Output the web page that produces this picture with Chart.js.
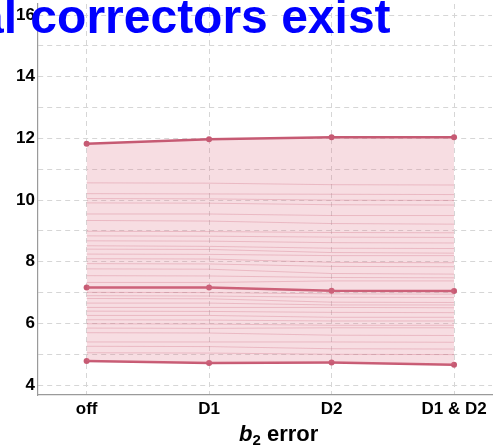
<!DOCTYPE html>
<html>
<head>
<meta charset="utf-8">
<script src="https://cdn.jsdelivr.net/npm/chart.js@4/dist/chart.umd.min.js"></script>
<style>
  html, body { margin: 0; padding: 0; background: #fff; overflow: hidden; }
  #wrap { position: relative; width: 496px; height: 448px; overflow: hidden; }
  #c { position: absolute; left: 0; top: 0; }
  #title {
    position: absolute; left: -23px; top: -11px; white-space: nowrap;
    font: bold 48px "Liberation Sans", Arial, sans-serif; color: #0000ff;
  }
  #xtitle {
    position: absolute; left: 239px; top: 421px; white-space: nowrap;
    font: bold 22px "Liberation Sans", Arial, sans-serif; color: #000;
  }
  #xtitle sub { font-size: 15px; vertical-align: -4px; }
</style>
</head>
<body>
<div id="wrap">
  <canvas id="c" width="496" height="448"></canvas>
  <div id="xtitle"><i>b</i><sub>2</sub> error</div>
  <div id="title">al correctors exist</div>
</div>
<script>
// categories along the x axis
const categories = ['off', 'D1', 'D2', 'D1 & D2'];

// envelope and median of all runs
const upper  = [11.83, 11.97, 12.04, 12.04];
const median = [7.17, 7.17, 7.06, 7.05];
const lower  = [4.78, 4.72, 4.73, 4.66];

// individual runs
const runs = [
  [10.56, 10.55, 10.50, 10.49],
  [10.21, 10.20, 10.19, 10.18],
  [10.05, 10.04, 10.00, 9.99],
  [9.91, 9.90, 9.85, 9.84],
  [9.55, 9.55, 9.50, 9.50],
  [9.34, 9.32, 9.24, 9.22],
  [8.99, 8.98, 8.95, 8.94],
  [8.84, 8.83, 8.80, 8.79],
  [8.68, 8.67, 8.62, 8.61],
  [8.52, 8.50, 8.44, 8.43],
  [8.41, 8.40, 8.30, 8.28],
  [8.25, 8.24, 8.20, 8.20],
  [8.10, 8.09, 7.98, 7.97],
  [7.94, 7.93, 7.85, 7.84],
  [7.77, 7.76, 7.62, 7.60],
  [7.55, 7.54, 7.49, 7.48],
  [7.33, 7.33, 7.38, 7.38],
  [7.01, 7.00, 6.96, 6.95],
  [6.90, 6.89, 6.85, 6.84],
  [6.81, 6.80, 6.69, 6.68],
  [6.66, 6.66, 6.60, 6.60],
  [6.52, 6.52, 6.52, 6.51],
  [6.40, 6.39, 6.36, 6.35],
  [6.26, 6.26, 6.20, 6.20],
  [6.12, 6.11, 6.08, 6.08],
  [5.99, 5.98, 5.94, 5.94],
  [5.85, 5.84, 5.86, 5.86],
  [5.70, 5.69, 5.62, 5.61],
  [5.40, 5.40, 5.40, 5.39],
  [5.26, 5.25, 5.18, 5.17],
  [5.05, 5.04, 5.00, 4.99]
];

// y tick values (labels every 2, grid every 1)
const yTicks = [4, 5, 6, 7, 8, 9, 10, 11, 12, 13, 14, 15, 16];

const lineColor = '#c65a73';
const toPoints = arr => arr.map((v, i) => ({ x: i, y: v }));

const mainStyle = {
  borderColor: lineColor,
  backgroundColor: lineColor,
  borderWidth: 2.5,
  pointRadius: 3,
  pointBorderWidth: 0,
  tension: 0
};

const datasets = [
  Object.assign({ label: 'max', data: toPoints(upper), fill: { target: 2 } }, mainStyle),
  Object.assign({ label: 'median', data: toPoints(median), fill: false }, mainStyle),
  Object.assign({ label: 'min', data: toPoints(lower), fill: false }, mainStyle)
];
// the band between max and min gets its own translucent colour
datasets[0].backgroundColor = 'rgba(222, 118, 140, 0.25)';
datasets[0].pointBackgroundColor = lineColor;

runs.forEach((r, k) => {
  datasets.push({
    label: 'run ' + (k + 1),
    data: toPoints(r),
    borderColor: 'rgba(200, 95, 118, 0.34)',
    borderWidth: 0.9,
    pointRadius: 0,
    fill: false,
    tension: 0
  });
});

const tickFont = { family: '"Liberation Sans", Arial, sans-serif', size: 17, weight: 'bold' };

new Chart(document.getElementById('c'), {
  type: 'line',
  data: { datasets },
  options: {
    responsive: false,
    animation: false,
    layout: { padding: 0 },
    plugins: { legend: { display: false }, tooltip: { enabled: false } },
    scales: {
      x: {
        type: 'linear',
        min: -0.397,
        max: 3.31,
        afterBuildTicks: s => { s.ticks = categories.map((c, i) => ({ value: i })); },
        afterFit: s => { s.height = 53; s.paddingLeft = 0; s.paddingRight = 0; },
        ticks: {
          color: '#000',
          font: tickFont,
          padding: 4,
          maxRotation: 0,
          autoSkip: false,
          callback: v => categories[v] ?? ''
        },
        grid: { color: '#d6d6d6', lineWidth: 1, drawTicks: false },
        border: { display: true, color: '#9a9a9a', width: 1.2, dash: [5, 4] }
      },
      y: {
        type: 'linear',
        min: 3.68,
        max: 16.36,
        afterBuildTicks: s => { s.ticks = yTicks.map(v => ({ value: v })); },
        afterFit: s => { s.width = 38; s.paddingTop = 0; s.paddingBottom = 0; },
        ticks: {
          color: '#000',
          font: tickFont,
          padding: 3,
          includeBounds: false,
          callback: v => (v % 2 === 0 ? String(v) : '')
        },
        grid: { color: '#d6d6d6', lineWidth: 1, drawTicks: false },
        border: { display: true, color: '#9a9a9a', width: 1.2, dash: [5, 4] }
      }
    }
  }
});
</script>
</body>
</html>
